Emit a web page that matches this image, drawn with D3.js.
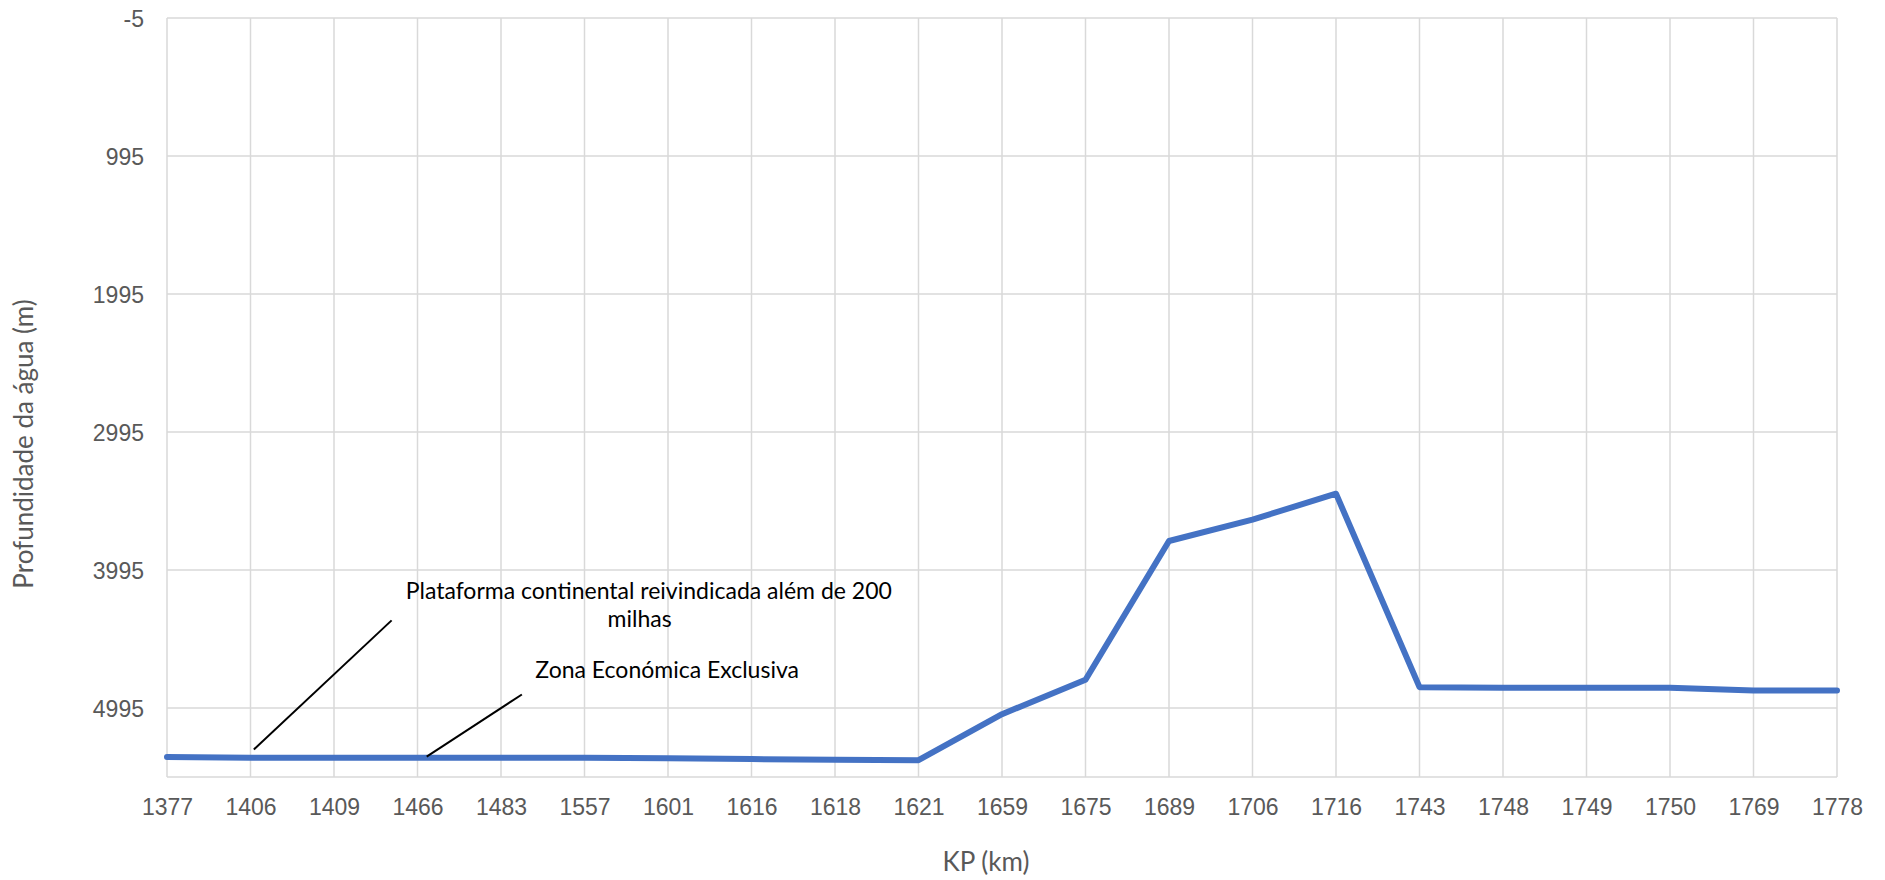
<!DOCTYPE html>
<html>
<head>
<meta charset="utf-8">
<script src="https://cdn.jsdelivr.net/npm/d3@7"></script>
<style>
  body { margin: 0; background: #fff; }
  svg { font-family: Lato, "Open Sans", sans-serif; }
  .grid line { stroke: #d9d9d9; stroke-width: 1.5; }
  .axis text { fill: #595959; font-size: 23px; }
</style>
</head>
<body>
<svg width="1885" height="880"></svg>
<script>
// KP (km) categories and water depth (m)
var kp = ["1377", "1406", "1409", "1466", "1483", "1557", "1601", "1616", "1618", "1621",
          "1659", "1675", "1689", "1706", "1716", "1743", "1748", "1749", "1750", "1769", "1778"];
var depth = [5350, 5355, 5355, 5355, 5355, 5355, 5360, 5365, 5370, 5373,
             5040, 4790, 3785, 3630, 3442, 4844, 4848, 4848, 4848, 4868, 4868];
var yTicks = [-5, 995, 1995, 2995, 3995, 4995];
var yDomain = [-5, 5495];

var svg = d3.select("svg");
var margin = {top: 18, right: 48, bottom: 103, left: 167};
var width = +svg.attr("width") - margin.left - margin.right;
var height = +svg.attr("height") - margin.top - margin.bottom;
var g = svg.append("g").attr("transform", "translate(" + margin.left + "," + margin.top + ")");

var x = d3.scalePoint().domain(kp).range([0, width]).padding(0);
var y = d3.scaleLinear().domain(yDomain).range([0, height]);
// fractional category position, used for annotations
function xAt(i) { return i * x.step(); }

// gridlines
var grid = g.append("g").attr("class", "grid");
grid.selectAll("line.h")
    .data(yTicks.concat([yDomain[1]]))
    .enter().append("line")
    .attr("x1", 0).attr("x2", width)
    .attr("y1", function(d) { return y(d); })
    .attr("y2", function(d) { return y(d); });
grid.selectAll("line.v")
    .data(kp)
    .enter().append("line")
    .attr("y1", 0).attr("y2", height)
    .attr("x1", function(d) { return x(d); })
    .attr("x2", function(d) { return x(d); });

// axes (labels only)
var xAxis = g.append("g")
    .attr("class", "axis")
    .attr("transform", "translate(0," + height + ")")
    .call(d3.axisBottom(x).tickSize(0).tickPadding(22));
var yAxis = g.append("g")
    .attr("class", "axis")
    .call(d3.axisLeft(y).tickValues(yTicks).tickSize(0).tickPadding(23)
      .tickFormat(function(d) { return String(d); }));
g.selectAll(".axis .domain").remove();
yAxis.selectAll("text").attr("dy", "0.36em");

// data line
var line = d3.line()
    .x(function(d, i) { return x(kp[i]); })
    .y(function(d) { return y(d); });
g.append("path")
    .datum(depth)
    .attr("fill", "none")
    .attr("stroke", "#4472C4")
    .attr("stroke-width", 6)
    .attr("stroke-linejoin", "round")
    .attr("stroke-linecap", "round")
    .attr("d", line);

// annotations
var leaders = [
  {i1: 1.04, v1: 5295, i2: 2.69, v2: 4360},
  {i1: 3.11, v1: 5347, i2: 4.25, v2: 4897}
];
g.selectAll("line.leader")
    .data(leaders)
    .enter().append("line")
    .attr("class", "leader")
    .attr("stroke", "#000")
    .attr("stroke-width", 2)
    .attr("x1", function(d) { return xAt(d.i1); })
    .attr("y1", function(d) { return y(d.v1); })
    .attr("x2", function(d) { return xAt(d.i2); })
    .attr("y2", function(d) { return y(d.v2); });

var t1 = g.append("text")
    .attr("text-anchor", "middle")
    .attr("font-size", 23)
    .attr("fill", "#000")
    .attr("y", y(4208));
t1.append("tspan").attr("x", xAt(5.77)).text("Plataforma continental reivindicada além de 200");
t1.append("tspan").attr("x", xAt(5.66)).attr("dy", 28).text("milhas");

g.append("text")
    .attr("text-anchor", "middle")
    .attr("font-size", 23)
    .attr("fill", "#000")
    .attr("x", xAt(5.99))
    .attr("y", y(4781))
    .text("Zona Económica Exclusiva");

// axis titles
svg.append("text")
    .attr("text-anchor", "middle")
    .attr("font-size", 26)
    .attr("fill", "#595959")
    .attr("transform", "translate(33,444) rotate(-90)")
    .text("Profundidade da água (m)");
svg.append("text")
    .attr("text-anchor", "middle")
    .attr("font-size", 26)
    .attr("fill", "#595959")
    .attr("x", 986)
    .attr("y", 871)
    .text("KP (km)");
</script>
</body>
</html>
